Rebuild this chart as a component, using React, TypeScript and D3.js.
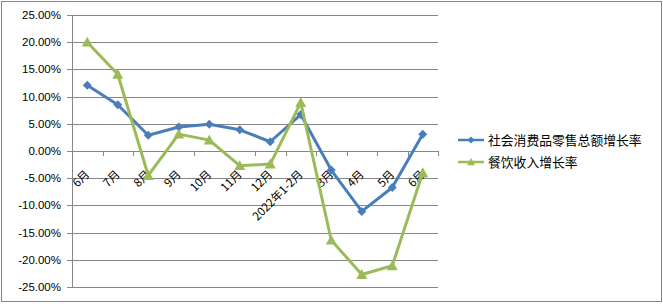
import React from "react";
import * as d3 from "d3";

const categories = ["6月", "7月", "8月", "9月", "10月", "11月", "12月", "2022年1-2月", "3月", "4月", "5月", "6月"];
const retailGrowth = [12.1, 8.5, 2.9, 4.4, 4.9, 3.9, 1.7, 6.7, -3.5, -11.1, -6.7, 3.1];
const cateringGrowth = [20.0, 14.1, -4.5, 3.1, 2.0, -2.7, -2.4, 8.9, -16.4, -22.7, -21.1, -4.0];
const seriesNames = ["社会消费品零售总额增长率", "餐饮收入增长率"];
const yTicks = [25, 20, 15, 10, 5, 0, -5, -10, -15, -20, -25];

const W = 663, H = 304;
const plot = { left: 72, right: 438, top: 15, bottom: 287 };
const BLUE = "#4a7ebb";
const GREEN = "#9bbb59";
const FONT = "'Noto Sans CJK SC', 'Liberation Sans', sans-serif";

export default function App() {
  const x = d3.scaleBand<number>().domain(d3.range(categories.length)).range([plot.left, plot.right]);
  const y = d3.scaleLinear().domain([-25, 25]).range([plot.bottom, plot.top]);
  const cx = (i: number) => (x(i) as number) + x.bandwidth() / 2;
  const line = d3.line<number>().x((_, i) => cx(i)).y((d) => y(d));
  const y0 = y(0);
  const diamond = (px: number, py: number, s = 4.5) => `M${px},${py - s}L${px + s},${py}L${px},${py + s}L${px - s},${py}Z`;
  const tri = (px: number, py: number, s = 5.5) => `M${px},${py - s}L${px + s},${py + s * 0.8}L${px - s},${py + s * 0.8}Z`;

  return (
    <svg width={W} height={H} style={{ position: "absolute", left: 0, top: 0, background: "#fff" }} fontFamily={FONT}>
      <rect x={1.5} y={1.5} width={W - 3} height={H - 4} fill="#fff" stroke="#868686" strokeWidth={1} />
      {yTicks.map((t) => (
        <g key={t}>
          <line x1={plot.left - 5} x2={plot.right} y1={Math.round(y(t)) + 0.5} y2={Math.round(y(t)) + 0.5} stroke="#868686" strokeWidth={1} />
          <text x={61} y={y(t) + 4} textAnchor="end" fontSize={11.5} fill="#000" fontFamily="'Liberation Sans', sans-serif">
            {t.toFixed(2) + "%"}
          </text>
        </g>
      ))}
      <line x1={plot.left + 0.5} x2={plot.left + 0.5} y1={plot.top} y2={plot.bottom} stroke="#868686" />
      {d3.range(categories.length + 1).map((i) => {
        const px = Math.round(i < categories.length ? (x(i) as number) : plot.right) + 0.5;
        return <line key={i} x1={px} x2={px} y1={y0} y2={y0 + 5} stroke="#868686" />;
      })}
      {categories.map((c, i) => (
        <text key={i} transform={`translate(${cx(i) + 3},${y0 + 24}) rotate(-45)`} textAnchor="end" fontSize={11.5} fill="#000">
          {c}
        </text>
      ))}
      <path d={line(retailGrowth) || ""} fill="none" stroke={BLUE} strokeWidth={3} strokeLinejoin="round" />
      {retailGrowth.map((v, i) => (
        <path key={i} d={diamond(cx(i), y(v))} fill={BLUE} />
      ))}
      <path d={line(cateringGrowth) || ""} fill="none" stroke={GREEN} strokeWidth={3} strokeLinejoin="round" />
      {cateringGrowth.map((v, i) => (
        <path key={i} d={tri(cx(i), y(v))} fill={GREEN} />
      ))}
      <g>
        <line x1={458} x2={484} y1={140} y2={140} stroke={BLUE} strokeWidth={2.5} />
        <path d={diamond(471, 140, 3.5)} fill={BLUE} />
        <text x={488} y={144.5} fontSize={12.8} fill="#000">{seriesNames[0]}</text>
        <line x1={458} x2={484} y1={162} y2={162} stroke={GREEN} strokeWidth={2.5} />
        <path d={tri(471, 162, 4)} fill={GREEN} />
        <text x={488} y={166.5} fontSize={12.8} fill="#000">{seriesNames[1]}</text>
      </g>
    </svg>
  );
}
